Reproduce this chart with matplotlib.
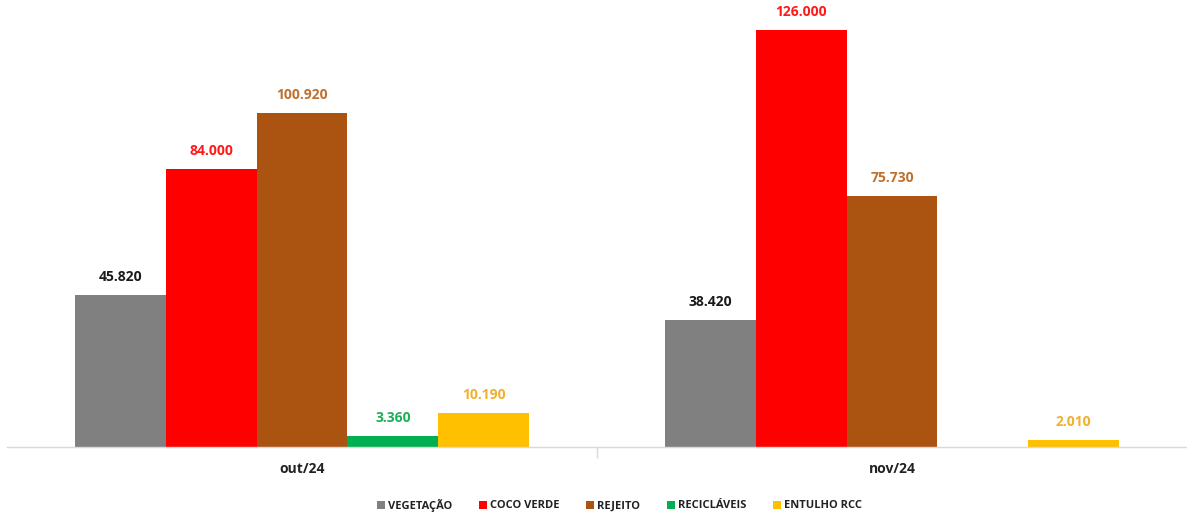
import matplotlib
matplotlib.use("Agg")
import matplotlib.pyplot as plt
import numpy as np

categories = ["out/24", "nov/24"]
series = ["VEGETAÇÃO", "COCO VERDE", "REJEITO", "RECICLÁVEIS", "ENTULHO RCC"]
vegetacao = [45.820, 38.420]
coco_verde = [84.000, 126.000]
rejeito = [100.920, 75.730]
reciclaveis = [3.360, 0.0]
entulho = [10.190, 2.010]
values = [vegetacao, coco_verde, rejeito, reciclaveis, entulho]

bar_colors = ["#808080", "#ff0000", "#ab5311", "#00b050", "#ffc000"]
label_colors = ["#1a1a1a", "#ff1a1a", "#c0702e", "#1fae5a", "#f0b030"]

plt.rcParams['font.family'] = ['Open Sans', 'DejaVu Sans']

fig = plt.figure(figsize=(11.87, 5.16), dpi=100)
ax = fig.add_axes([7/1187, 69/516, 1180/1187, 447/516])

x = np.arange(len(categories))
n = len(series)
group_w = 0.77
bw = group_w / n
for i, (name, vals) in enumerate(zip(series, values)):
    pos = x - group_w/2 + bw*(i+0.5)
    ax.bar(pos, vals, bw, color=bar_colors[i], label=name, linewidth=0)
    for xp, v in zip(pos, vals):
        if v and v > 0:
            txt = f"{v:.3f}"
            ax.annotate(txt, (xp, v), xytext=(0, 18), textcoords="offset pixels",
                        ha="center", va="center", fontsize=10, fontweight="bold",
                        color=label_colors[i])

ax.set_xlim(-0.5, 1.5)
ax.set_ylim(0, 135)
ax.set_yticks([])
ax.set_xticks(x)
ax.set_xticklabels(categories, fontsize=10, fontweight="bold", color="#222222")
ax.set_xticks([0.5], minor=True)
ax.tick_params(axis="x", which="major", length=0, pad=11)
ax.tick_params(axis="x", which="minor", length=8, color="#d9d9d9", width=1)
for s in ["top", "left", "right"]:
    ax.spines[s].set_visible(False)
ax.spines["bottom"].set_color("#d9d9d9")
ax.spines["bottom"].set_linewidth(1)

leg = fig.legend(loc="center", bbox_to_anchor=(0.522, 1 - 505/516), ncol=5, frameon=False,
                 fontsize=8, handlelength=0.7, handleheight=0.7, handletextpad=0.3,
                 columnspacing=2.4)
for t in leg.get_texts():
    t.set_fontweight("bold")
    t.set_color("#222222")

fig.savefig("out.png", dpi=100)
